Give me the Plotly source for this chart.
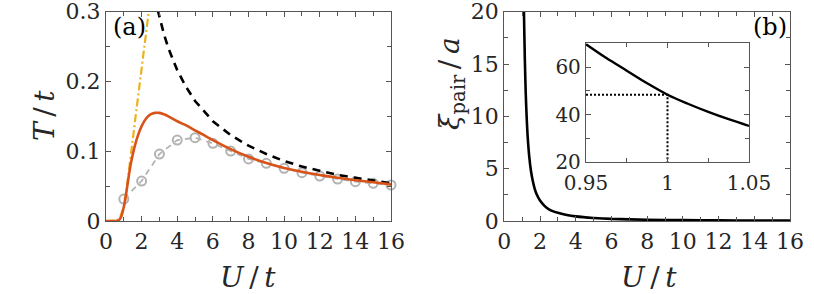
import plotly.graph_objects as go

W, H = 814, 294

# ---------------- data ----------------
# panel (a)
U_yellow = [0, 0.5, 0.65, 0.8, 0.9, 1.0, 1.1, 1.2, 1.4, 1.6, 1.8, 2.0, 2.2, 2.4]
T_yellow = [0, 0, 0.001, 0.006, 0.013, 0.021, 0.034, 0.053, 0.095, 0.137, 0.178, 0.218, 0.259, 0.300]

U_orange = [0, 0.5, 0.7, 0.85, 1.0, 1.1, 1.2, 1.3, 1.4, 1.6, 1.8, 2.0, 2.25, 2.5, 2.75, 3.0,
            3.25, 3.5, 4.0, 4.5, 5.0, 5.5, 6.0, 7, 8, 9, 10, 11, 12, 13, 14, 15, 16]
T_orange = [0, 0, 0.001, 0.006, 0.020, 0.034, 0.051, 0.068, 0.083, 0.106, 0.123, 0.136, 0.147,
            0.153, 0.155, 0.155, 0.153, 0.150, 0.143, 0.137, 0.130, 0.123, 0.116, 0.103, 0.092,
            0.083, 0.076, 0.0705, 0.066, 0.062, 0.0585, 0.0555, 0.0525]

U_black = [2.9, 3.0, 3.25, 3.5, 4, 4.5, 5, 6, 7, 8, 9, 10, 11, 12, 13, 14, 15, 16]
T_black = [0.303, 0.292, 0.268, 0.248, 0.216, 0.192, 0.172, 0.143, 0.123, 0.108, 0.096, 0.086,
           0.078, 0.072, 0.066, 0.062, 0.058, 0.054]

U_qmc = [1, 2, 3, 4, 5, 6, 7, 8, 9, 10, 11, 12, 13, 14, 15, 16]
T_qmc = [0.0315, 0.0573, 0.096, 0.116, 0.1194, 0.1113, 0.1003, 0.0889, 0.0827, 0.0755,
         0.0693, 0.0645, 0.0602, 0.0564, 0.054, 0.0516]

# panel (b)
U_xi = [1.08, 1.1, 1.15, 1.2, 1.25, 1.3, 1.4, 1.5, 1.6, 1.7, 1.8, 2.0, 2.25, 2.5, 2.75, 3.0,
        3.5, 4, 5, 6, 8, 10, 12, 14, 16]
xi = [23, 20, 15.5, 12.2, 10, 8.3, 6.1, 4.7, 3.8, 3.1, 2.6, 1.95, 1.45, 1.12, 0.92, 0.78,
      0.57, 0.44, 0.29, 0.2, 0.12, 0.08, 0.055, 0.042, 0.033]

U_inset = [0.95, 0.9625, 0.975, 0.9875, 1.0, 1.0125, 1.025, 1.0375, 1.05]
xi_inset = [69.6, 63.8, 58.5, 53.2, 48.4, 44.6, 41.2, 38.1, 35.3]
U_mark, xi_mark = 1.0, 48.4

xticks_main = [0, 2, 4, 6, 8, 10, 12, 14, 16]
yticks_a = [0, 0.1, 0.2, 0.3]
yticks_b = [0, 5, 10, 15, 20]
xticks_in = [0.95, 1.0, 1.05]
xticktext_in = ["0.95", "1", "1.05"]
yticks_in = [20, 40, 60]

# ---------------- styling ----------------
FONT = "DejaVu Serif"
AX = "#555555"
TXT = "#262626"

def px(x):
    return x / W

def py(y):
    return (H - y) / H

fig = go.Figure()

# panel (a)
fig.add_trace(go.Scatter(x=U_qmc, y=T_qmc, mode="lines+markers",
                         line=dict(color="#b3b3b3", width=1.8, dash="6px,5px"),
                         marker=dict(symbol="circle-open", size=9, color="#b3b3b3",
                                     line=dict(width=2, color="#b3b3b3")),
                         cliponaxis=False, xaxis="x", yaxis="y"))
fig.add_trace(go.Scatter(x=U_black, y=T_black, mode="lines",
                         line=dict(color="black", width=2.6, dash="8px,6px"),
                         xaxis="x", yaxis="y"))
fig.add_trace(go.Scatter(x=U_yellow, y=T_yellow, mode="lines",
                         line=dict(color="#EDB120", width=2.2, dash="8px,3px,2px,3px"),
                         xaxis="x", yaxis="y"))
fig.add_trace(go.Scatter(x=U_orange, y=T_orange, mode="lines", line_shape="spline",
                         line=dict(color="#D95319", width=2.6, smoothing=0.6),
                         xaxis="x", yaxis="y"))

# panel (b)
fig.add_trace(go.Scatter(x=U_xi, y=xi, mode="lines", line_shape="spline",
                         line=dict(color="black", width=2.6, smoothing=0.5),
                         xaxis="x2", yaxis="y2"))

# inset
fig.add_trace(go.Scatter(x=[U_inset[0], U_mark, U_mark], y=[xi_mark, xi_mark, 20], mode="lines",
                         line=dict(color="black", width=2, dash="2px,2px"),
                         xaxis="x3", yaxis="y3"))
fig.add_trace(go.Scatter(x=U_inset, y=xi_inset, mode="lines", line_shape="spline",
                         line=dict(color="black", width=2.4),
                         xaxis="x3", yaxis="y3"))

common = dict(showline=True, linecolor=AX, linewidth=1.3, mirror="allticks",
              ticks="inside", ticklen=5, tickcolor=AX, tickwidth=1,
              showgrid=False, zeroline=False, automargin=False,
              ticklabeloverflow="allow",
              tickfont=dict(family=FONT, size=22, color=TXT))

xa = (106, 391)
xb = (504.3, 790)
ytop, ybot = 11.7, 221

fig.update_layout(
    width=W, height=H, margin=dict(l=0, r=0, t=0, b=0),
    font=dict(family=FONT, color=TXT),
    paper_bgcolor="white", plot_bgcolor="white", showlegend=False,
    xaxis=dict(domain=[px(xa[0]), px(xa[1])], range=[0, 16.00001], tickvals=xticks_main,
               minor=dict(dtick=1, ticks="inside", ticklen=4, tickcolor=AX), anchor="y",
               **common),
    yaxis=dict(domain=[py(ybot), py(ytop)], range=[0, 0.300001], tickvals=yticks_a,
               minor=dict(dtick=0.05, ticks="inside", ticklen=4, tickcolor=AX), anchor="x",
               **common),
    xaxis2=dict(domain=[px(xb[0]), px(xb[1])], range=[0, 16.00001], tickvals=xticks_main,
                minor=dict(dtick=1, ticks="inside", ticklen=4, tickcolor=AX), anchor="y2",
                **common),
    yaxis2=dict(domain=[py(ybot), py(ytop)], range=[0, 20.00001], tickvals=yticks_b,
                minor=dict(dtick=2.5, ticks="inside", ticklen=4, tickcolor=AX), anchor="x2",
                **common),
    xaxis3=dict(domain=[px(586), px(749)], range=[0.95, 1.05], tickvals=xticks_in,
                ticktext=xticktext_in, ticklabelstandoff=3,
                minor=dict(tickvals=[0.975, 1.025], ticks="inside", ticklen=4, tickcolor=AX),
                anchor="y3", **{**common, "tickfont": dict(family=FONT, size=20, color=TXT)}),
    yaxis3=dict(domain=[py(162.3), py(43.3)], range=[20, 70], tickvals=yticks_in,
                minor=dict(tickvals=[30, 50, 70], ticks="inside", ticklen=4, tickcolor=AX),
                anchor="x3", **{**common, "tickfont": dict(family=FONT, size=20, color=TXT)}),
)

ann = [
    dict(text="<i>U</i>\u2009/\u2009<i>t</i>", x=px(248), y=py(277)),
    dict(text="<i>U</i>\u2009/\u2009<i>t</i>", x=px(649), y=py(277)),
    dict(text="<i>T</i>\u2009/\u2009<i>t</i>", x=px(44), y=py(116), textangle=-90),
    dict(text="<i>ξ</i><sub>pair</sub>\u2009/\u2009<i>a</i>", x=px(451), y=py(84), textangle=-90),
]
for a in ann:
    fig.add_annotation(xref="paper", yref="paper", showarrow=False,
                       xanchor="center", yanchor="middle",
                       font=dict(family=FONT, size=28, color=TXT), **a)

fig.add_annotation(text="(a)", xref="paper", yref="paper", x=px(129), y=py(27),
                   showarrow=False, xanchor="center", yanchor="middle",
                   font=dict(family=FONT, size=24, color="black"))
fig.add_annotation(text="(b)", xref="paper", yref="paper", x=px(770), y=py(27),
                   showarrow=False, xanchor="center", yanchor="middle",
                   font=dict(family=FONT, size=24, color="black"))

fig.write_html("out.html", config={"displayModeBar": False},
               post_script="document.body.style.margin='0';document.body.style.overflow='hidden';")
